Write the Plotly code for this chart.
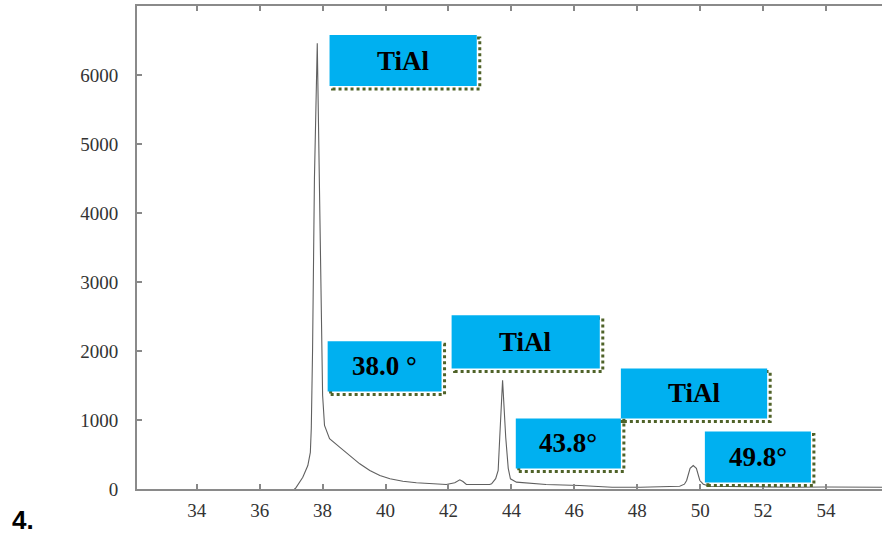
import plotly.graph_objects as go

# ---- data ----
two_theta = [37.10, 37.14, 37.37, 37.53, 37.61, 37.64, 37.68, 37.74, 37.83, 37.90,
             37.95, 38.00, 38.06, 38.22, 38.54, 38.86, 39.18, 39.50, 39.82, 40.14,
             40.55, 40.98, 41.40, 41.93, 42.20, 42.36, 42.46, 42.57, 43.31, 43.37,
             43.50, 43.58, 43.63, 43.72, 43.82, 43.90, 43.97, 44.16, 45.10, 46.17,
             47.20, 48.10, 49.35, 49.50, 49.57, 49.68, 49.78, 49.88, 49.99, 50.10,
             50.30, 51.50, 53.00, 54.00, 55.78]
intensity = [0, 10, 171, 340, 530, 880, 2000, 4500, 6460, 4500,
             2500, 1356, 921, 728, 606, 486, 365, 268, 196, 148,
             113, 90, 75, 65, 90, 133, 109, 65, 65, 75,
             150, 268, 751, 1574, 751, 300, 148, 99, 65, 51,
             26, 26, 40, 70, 123, 300, 341, 300, 123, 70,
             40, 30, 25, 30, 25]

x_ticks = [34, 36, 38, 40, 42, 44, 46, 48, 50, 52, 54]
y_ticks = [0, 1000, 2000, 3000, 4000, 5000, 6000]

label_texts = ["TiAl", "38.0 °", "TiAl", "43.8°", "TiAl", "49.8°"]

# label box extents (data units: 2θ, counts)
label_boxes = [
    (38.22, 42.90, 5839, 6579),
    (38.16, 41.78, 1414, 2140),
    (42.10, 46.81, 1748, 2517),
    (44.14, 47.48, 297, 1023),
    (47.48, 52.13, 1023, 1748),
    (50.15, 53.52, 94, 834),
]

X_RANGE = [32.1, 55.78]
Y_RANGE = [0, 7000]
PLOT_W = 882 - 137
PLOT_H = 536 - 6 - 47
dx = 3 * (X_RANGE[1] - X_RANGE[0]) / PLOT_W
dy = 3 * (Y_RANGE[1] - Y_RANGE[0]) / PLOT_H

fig = go.Figure()
fig.add_trace(go.Scatter(x=two_theta, y=intensity, mode="lines",
                         line=dict(color="#606060", width=1.1),
                         showlegend=False, hoverinfo="skip"))

shapes = []
annotations = []
for (x0, x1, y0, y1), txt in zip(label_boxes, label_texts):
    # dotted shadow border (visible on bottom and right)
    shapes.append(dict(type="rect", xref="x", yref="y",
                       x0=x0 + dx, x1=x1 + dx, y0=y0 - dy, y1=y1 - dy,
                       line=dict(color="#4f6228", width=3, dash="dot"),
                       fillcolor="rgba(0,0,0,0)", layer="above"))
    shapes.append(dict(type="rect", xref="x", yref="y",
                       x0=x0, x1=x1, y0=y0, y1=y1,
                       line=dict(width=0), fillcolor="#00b0f0", layer="above"))
    annotations.append(dict(x=(x0 + x1) / 2, y=(y0 + y1) / 2, xref="x", yref="y",
                            text="<b>" + txt + "</b>", showarrow=False,
                            font=dict(family="Liberation Serif", size=27, color="#000")))

annotations.append(dict(x=-127 / PLOT_W, y=-0.065, xref="paper", yref="paper",
                        xanchor="left", yanchor="middle", text="<b>4.</b>",
                        showarrow=False,
                        font=dict(family="Liberation Sans", size=26, color="#000")))

fig.update_layout(
    width=882, height=536,
    margin=dict(l=137, r=0, t=6, b=47),
    paper_bgcolor="white", plot_bgcolor="white",
    shapes=shapes, annotations=annotations,
    xaxis=dict(range=X_RANGE, tickvals=x_ticks, ticks="inside", ticklen=5,
               tickcolor="#888", tickwidth=1.5,
               showline=True, linecolor="#8a8a8a", linewidth=2, mirror="ticks",
               showgrid=False, zeroline=False, ticklabelstandoff=3,
               tickfont=dict(family="Liberation Serif", size=19, color="#333")),
    yaxis=dict(range=Y_RANGE, tickvals=y_ticks, ticks="inside", ticklen=5,
               tickcolor="#888", tickwidth=1.5,
               showline=True, linecolor="#8a8a8a", linewidth=2, mirror=False,
               showgrid=False, zeroline=False, ticklabelstandoff=13,
               tickfont=dict(family="Liberation Serif", size=19, color="#333")),
)

fig.write_html("out.html", config={"displayModeBar": False},
               post_script="document.body.style.margin='0';"
                           "document.body.style.overflow='hidden';")
